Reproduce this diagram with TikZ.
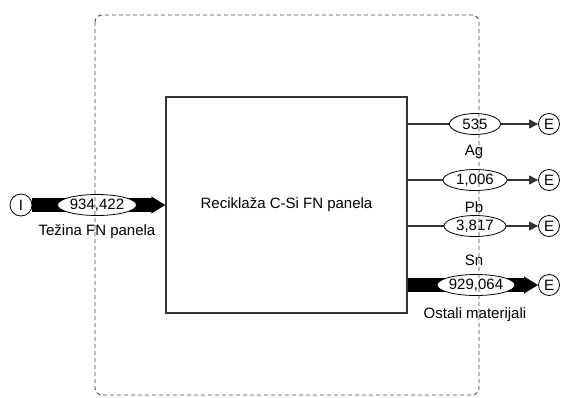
\documentclass[tikz,border=0pt]{standalone}
\usepackage{fontspec}
\setmainfont{Liberation Sans}
\usetikzlibrary{shapes.geometric,arrows.meta}

\begin{document}
\begin{tikzpicture}[x=1pt,y=-1pt]
\tikzstyle{every node}+=[inner sep=0pt, font=\fontsize{15}{17}\selectfont]
\tikzstyle{val}=[draw, ellipse, fill=white, line width=0.8pt, minimum height=21pt]
\tikzstyle{term}=[draw, circle, line width=0.8pt, minimum size=21pt]
\tikzstyle{thinflow}=[black!80, line width=1.1pt, -{Triangle[length=9pt,width=9pt]}]
\tikzstyle{thickflow}=[black, line width=14pt, -{Triangle[length=14pt,width=16pt]}]
\useasboundingbox (0,0) rectangle (563,397);
\node [draw, black!80, text=black, line width=1.2pt, minimum width=241pt, minimum height=216pt] (box) at (286.5,205) {Reciklaža C-Si FN panela};
\node [term, minimum size=22pt] (src) at (21,205) {I};
\node [term] (e1) at (549,124) {E};
\node [term] (e2) at (549,180) {E};
\node [term] (e3) at (549,226) {E};
\node [term] (e4) at (549,285) {E};
\draw [thickflow] (src) -- (box);
\draw [thinflow] (box.east |- e1) -- (e1);
\draw [thinflow] (box.east |- e2) -- (e2);
\draw [thinflow] (box.east |- e3) -- (e3);
\draw [thickflow] (box.east |- e4) -- (e4);
\node [val, minimum width=79pt] (vin) at (97,205) {934,422};
\node [val, minimum width=51pt] (v1) at (475,124) {535};
\node [val, minimum width=64pt] (v2) at (475,180) {1,006};
\node [val, minimum width=62pt] (v3) at (475,226) {3,817};
\node [val, minimum width=78pt] (v4) at (476,285) {929,064};
\node (lin) at (97,232) {Težina FN panela};
\node (l1) at (474,152) {Ag};
\node (l2) at (474,207) {Pb};
\node (l3) at (474,260) {Sn};
\node (l4) at (475,315) {Ostali materijali};
\draw [black!70, line width=0.9pt, dash pattern=on 4pt off 3pt, rounded corners=7pt] (95,15) rectangle (479,395);
\end{tikzpicture}
\end{document}
